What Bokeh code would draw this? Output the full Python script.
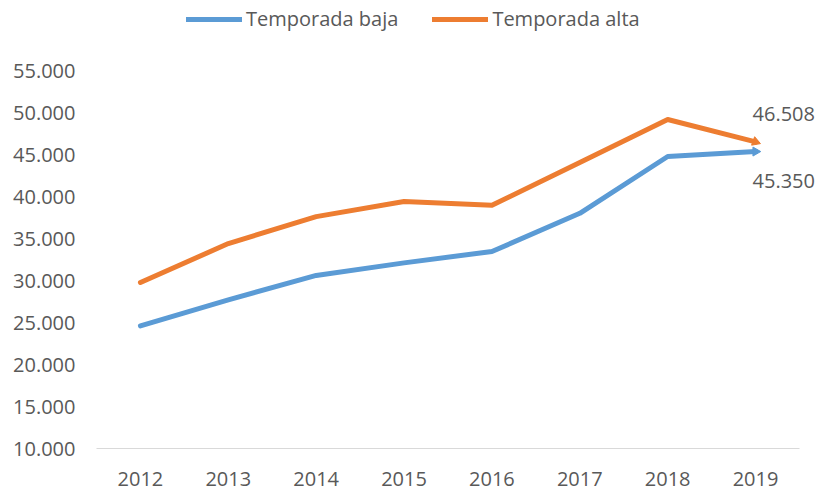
import math
from bokeh.plotting import figure
from bokeh.models import Range1d, FixedTicker, CustomJSTickFormatter, Legend, LegendItem
from bokeh.core.properties import value
from bokeh.embed import file_html
from bokeh.resources import INLINE

years = ["2012", "2013", "2014", "2015", "2016", "2017", "2018", "2019"]
baja = [24600, 27700, 30600, 32100, 33450, 38000, 44760, 45350]
alta = [29760, 34400, 37600, 39400, 38950, 44050, 49170, 46508]
y_ticks = [10000, 15000, 20000, 25000, 30000, 35000, 40000, 45000, 50000, 55000]
label_baja = "45.350"
label_alta = "46.508"

BLUE = "#5B9BD5"
ORANGE = "#ED7D31"
GRAY = "#595959"
FONT = "Open Sans"
FS = "20px"

W, H = 817, 490
LEFT_PX = 96
AXIS_RIGHT_PX = 799
TOP_TICK_PX = 70
BOTTOM_PX = 448
y_lo, y_hi = y_ticks[0], y_ticks[-1]
y_end = y_lo + (y_hi - y_lo) * BOTTOM_PX / (BOTTOM_PX - TOP_TICK_PX)
n = len(years)
x_end = n * (W - LEFT_PX) / (AXIS_RIGHT_PX - LEFT_PX)

# category centres (index + 0.5), mapped through the figure's linear x scale
xs = [i + 0.5 for i in range(n)]

p = figure(width=W, height=H, output_backend="svg",
           toolbar_location=None, min_border_left=LEFT_PX, min_border_right=0,
           min_border_top=0, min_border_bottom=H - BOTTOM_PX)
p.x_range = Range1d(0, x_end)
p.y_range = Range1d(y_lo, y_end)
p.outline_line_color = None
p.xgrid.grid_line_color = None
p.ygrid.grid_line_color = None

r_b = p.line(xs, baja, line_color=BLUE, line_width=5, line_cap="round", line_join="round")
r_a = p.line(xs, alta, line_color=ORANGE, line_width=5, line_cap="round", line_join="round")
p.scatter([xs[-1]], [baja[-1]], marker="triangle", size=9, angle=-math.pi / 2,
          fill_color=BLUE, line_color=BLUE)
p.scatter([xs[-1]], [alta[-1]], marker="triangle", size=9, angle=-math.pi / 2 - 0.35,
          fill_color=ORANGE, line_color=ORANGE)

p.text([xs[-1]], [alta[-1]], text=[label_alta], x_offset=-3, y_offset=-28,
       text_align="left", text_baseline="middle", text_font=value(FONT),
       text_font_size=FS, text_color=GRAY)
p.text([xs[-1]], [baja[-1]], text=[label_baja], x_offset=-3, y_offset=29,
       text_align="left", text_baseline="middle", text_font=value(FONT),
       text_font_size=FS, text_color=GRAY)

p.yaxis.ticker = FixedTicker(ticks=y_ticks)
p.yaxis.formatter = CustomJSTickFormatter(code="return (tick/1000).toFixed(3);")
p.yaxis.axis_line_color = None
p.yaxis.major_tick_line_color = None
p.yaxis.minor_tick_line_color = None
p.yaxis.major_label_standoff = 15

p.xaxis.ticker = FixedTicker(ticks=xs)
p.xaxis.formatter = CustomJSTickFormatter(args=dict(labels=years),
                                          code="return labels[Math.floor(tick)];")
p.xaxis.bounds = (0, n)
p.xaxis.axis_line_color = "#D9D9D9"
p.xaxis.axis_line_width = 1
p.xaxis.major_tick_line_color = None
p.xaxis.minor_tick_line_color = None
p.xaxis.major_label_standoff = 17

for ax in (p.xaxis, p.yaxis):
    ax.major_label_text_font = FONT
    ax.major_label_text_font_size = FS
    ax.major_label_text_color = GRAY

legend = Legend(items=[LegendItem(label="Temporada baja", renderers=[r_b]),
                       LegendItem(label="Temporada alta", renderers=[r_a])],
                orientation="horizontal", location=(90, 416),
                glyph_width=56, glyph_height=20, label_standoff=4, spacing=34,
                padding=0, margin=0, border_line_color=None,
                background_fill_alpha=0, label_text_font=FONT,
                label_text_font_size=FS, label_text_color=GRAY)
p.add_layout(legend, "center")

open("out.html", "w").write(file_html(p, INLINE))
